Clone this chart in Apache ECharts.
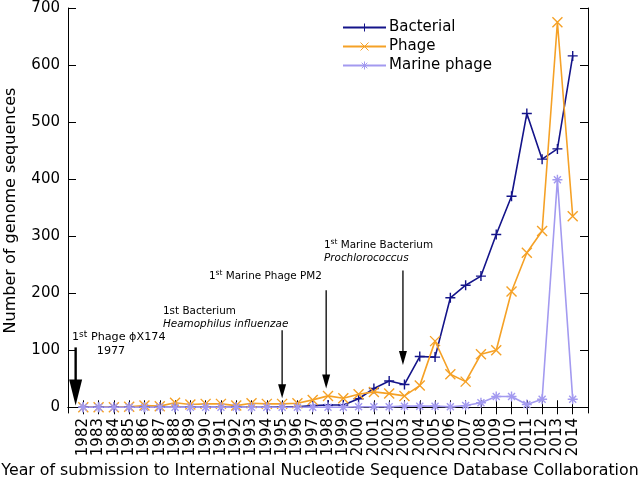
<!DOCTYPE html>
<html>
<head>
<meta charset="utf-8">
<script src="https://cdn.jsdelivr.net/npm/echarts@6/dist/echarts.min.js"></script>
<style>
  html, body { margin: 0; padding: 0; background: #fff; }
  #chart { width: 640px; height: 483px; }
</style>
</head>
<body>
<div id="chart"></div>
<script>
// data
const years = [1982, 1983, 1984, 1985, 1986, 1987, 1988, 1989, 1990, 1991, 1992,
  1993, 1994, 1995, 1996, 1997, 1998, 1999, 2000, 2001, 2002, 2003, 2004, 2005,
  2006, 2007, 2008, 2009, 2010, 2011, 2012, 2013, 2014];
const bacterial = [0, 0, 0, 0, 0, 0, 0, 0, 0, 0, 0, 0, 0, 1, 1, 3, 4, 4, 15, 33,
  46, 40, 89, 88, 192, 214, 230, 303, 370, 515, 435, 453, 616];
const phage = [0, 0, 0, 1, 3, 2, 8, 5, 6, 6, 3, 7, 6, 6, 7, 13, 20, 16, 23, 27,
  24, 20, 38, 116, 58, 45, 93, 100, 203, 271, 309, 675, 335];
const marinePhage = [0, 0, 0, 0, 0, 0, 0, 0, 0, 0, 0, 0, 0, 0, 0, 0, 0, 0, 1, 1,
  1, 2, 2, 2, 1, 3, 8, 19, 19, 5, 14, 399, 14];
const yTicks = [0, 100, 200, 300, 400, 500, 600, 700];

const FONT = 'DejaVu Sans';
const pairs = vals => years.map((y, i) => [y, vals[i]]);

const plusSym = 'path://M5,0L5,10M0,5L10,5';
const crossSym = 'path://M0,0L10,10M10,0L0,10';
const starSym = 'path://M5,0L5,10M0,5L10,5M1.5,1.5L8.5,8.5M8.5,1.5L1.5,8.5';

function lineSeries(name, vals, color, sym) {
  return {
    name: name,
    type: 'line',
    data: pairs(vals),
    symbol: sym,
    symbolSize: 10,
    showSymbol: true,
    showAllSymbol: true,
    lineStyle: { color: color, width: 1.6 },
    itemStyle: { color: color, borderColor: color, borderWidth: 1.4 },
    emphasis: { disabled: true }
  };
}

const chart = echarts.init(document.getElementById('chart'));
chart.setOption({
  animation: false,
  textStyle: { fontFamily: FONT },
  grid: { left: 68, right: 52, top: 8, bottom: 70, outerBoundsMode: 'none' },
  legend: {
    orient: 'vertical',
    left: 342,
    top: 20,
    padding: 0,
    itemWidth: 43,
    itemHeight: 10,
    itemGap: 4,
    itemStyle: { borderWidth: 1 },
    textStyle: { fontFamily: FONT, fontSize: 15, color: '#000', padding: [0, 0, 0, -2] },
    data: ['Bacterial', 'Phage', 'Marine phage']
  },
  xAxis: [
    {
      type: 'value',
      min: 1981,
      max: 2015,
      interval: 1,
      splitLine: { show: false },
      axisLine: { lineStyle: { color: '#000', width: 1 } },
      axisTick: { inside: true, length: 7, customValues: years, lineStyle: { color: '#000' } },
      axisLabel: {
        rotate: 90,
        margin: 5,
        fontSize: 15,
        color: '#000',
        fontFamily: FONT,
        customValues: years,
        formatter: v => String(v)
      }
    },
    {
      type: 'value',
      position: 'top',
      min: 1981,
      max: 2015,
      interval: 1,
      splitLine: { show: false },
      axisLine: { lineStyle: { color: '#000', width: 1 } },
      axisTick: { inside: true, length: 7, customValues: years, lineStyle: { color: '#000' } },
      axisLabel: { show: false }
    }
  ],
  yAxis: [
    {
      type: 'value',
      min: -10,
      max: 700,
      name: 'Number of genome sequences',
      nameLocation: 'middle',
      nameGap: 49,
      nameTextStyle: { fontFamily: FONT, fontSize: 16, color: '#000' },
      splitLine: { show: false },
      axisLine: { show: true, lineStyle: { color: '#000', width: 1 } },
      axisTick: { show: true, inside: true, length: 8, customValues: yTicks, lineStyle: { color: '#000' } },
      axisLabel: {
        margin: 8,
        fontSize: 15,
        color: '#000',
        fontFamily: FONT,
        customValues: yTicks
      }
    },
    {
      type: 'value',
      position: 'right',
      min: -10,
      max: 700,
      splitLine: { show: false },
      axisLine: { show: true, lineStyle: { color: '#000', width: 1 } },
      axisTick: { show: true, inside: true, length: 8, customValues: yTicks, lineStyle: { color: '#000' } },
      axisLabel: { show: false }
    }
  ],
  series: [
    lineSeries('Bacterial', bacterial, '#14148a', plusSym),
    lineSeries('Phage', phage, '#f5a126', crossSym),
    lineSeries('Marine phage', marinePhage, '#a39af0', starSym)
  ]
});

// annotations: arrows anchored to the data axes
const px = (x, y) => chart.convertToPixel({ xAxisIndex: 0, yAxisIndex: 0 }, [x, y]);

const arrows = [
  { x: 1981.5, from: 105, to: 3, w: 2.4, headW: 13, headL: 26 },
  { x: 1995, from: 135, to: 16, w: 1.3, headW: 8, headL: 14 },
  { x: 1997.88, from: 205, to: 33, w: 1.3, headW: 8, headL: 14 },
  { x: 2002.9, from: 240, to: 74, w: 1.3, headW: 8, headL: 14 }
];

const graphics = [];
arrows.forEach(a => {
  const p0 = px(a.x, a.from);
  const p1 = px(a.x, a.to);
  graphics.push({
    type: 'line',
    shape: { x1: p0[0], y1: p0[1], x2: p1[0], y2: p1[1] - a.headL + 2 },
    style: { stroke: '#000', lineWidth: a.w },
    z: 50
  });
  graphics.push({
    type: 'polygon',
    shape: { points: [[p1[0] - a.headW / 2, p1[1] - a.headL], [p1[0] + a.headW / 2, p1[1] - a.headL], [p1[0], p1[1]]] },
    style: { fill: '#000' },
    z: 50
  });
});

const sup = {
  n: { fontFamily: FONT, fontSize: 10.4, lineHeight: 13, color: '#000' },
  s: { fontFamily: FONT, fontSize: 7.5, lineHeight: 8, verticalAlign: 'top', color: '#000' },
  i: { fontFamily: FONT, fontSize: 10.4, lineHeight: 13, fontStyle: 'italic', color: '#000' }
};
const purple = '#7e2a8a';
const supP = {
  n: { fontFamily: FONT, fontSize: 11.2, lineHeight: 14, color: purple },
  s: { fontFamily: FONT, fontSize: 9, lineHeight: 9, verticalAlign: 'top', color: purple }
};

const labels = [
  { x: 72, y: 337, text: '{n|1}{s|st}{n| Phage ϕX174}', rich: supP },
  { x: 111, y: 351, text: '{n|1977}', rich: supP, align: 'center' },
  { x: 163, y: 311, text: '{n|1st Bacterium}', rich: sup },
  { x: 163, y: 324, text: '{i|Heamophilus influenzae}', rich: sup },
  { x: 209, y: 276, text: '{n|1}{s|st}{n| Marine Phage PM2}', rich: sup },
  { x: 324, y: 245, text: '{n|1}{s|st}{n| Marine Bacterium}', rich: sup },
  { x: 324, y: 258, text: '{i|Prochlorococcus}', rich: sup }
];
labels.forEach(l => {
  graphics.push({
    type: 'text',
    x: l.x,
    y: l.y,
    style: {
      text: l.text,
      rich: l.rich,
      align: l.align || 'left',
      verticalAlign: 'middle'
    },
    z: 50
  });
});

graphics.push({
  type: 'text',
  x: 320,
  y: 471,
  style: {
    text: 'Year of submission to International Nucleotide Sequence Database Collaboration',
    fontFamily: FONT,
    fontSize: 15.8,
    fill: '#000',
    align: 'center',
    verticalAlign: 'middle'
  }
});

chart.setOption({ graphic: graphics });
</script>
</body>
</html>
